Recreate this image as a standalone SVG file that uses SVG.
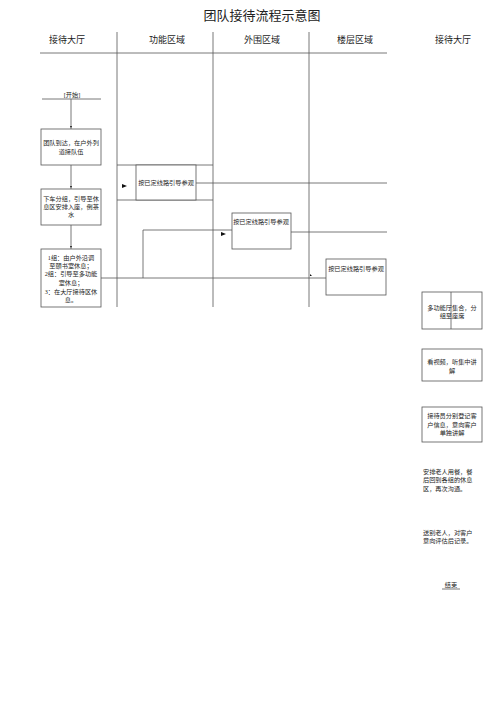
<svg xmlns="http://www.w3.org/2000/svg" width="500" height="707" viewBox="0 0 500 707">
<style>
.t{font-family:"Liberation Serif","Noto Sans CJK SC",serif;fill:#222}
.h{font-size:9px;text-anchor:middle}
.s{font-size:6.2px;text-anchor:middle}
.sl{font-size:6.2px}
.b{fill:#fff;stroke:#555;stroke-width:0.8}
.l{fill:none;stroke:#555;stroke-width:0.8}
.a{fill:#111}
</style>
<rect width="500" height="707" fill="#fff"/>
<text class="t" x="262" y="20" font-size="13" text-anchor="middle">团队接待流程示意图</text>
<g id="header">
<text class="t h" x="67" y="43">接待大厅</text>
<text class="t h" x="167" y="43">功能区域</text>
<text class="t h" x="262" y="43">外围区域</text>
<text class="t h" x="355" y="43">楼层区域</text>
<text class="t h" x="453" y="43">接待大厅</text>
<line class="l" x1="40" y1="53" x2="387" y2="53"/>
<line class="l" x1="117" y1="32" x2="117" y2="307"/>
<line class="l" x1="213" y1="32" x2="213" y2="307"/>
<line class="l" x1="309" y1="32" x2="309" y2="307"/>
</g>
<g id="connectors">
<line class="l" x1="42" y1="99" x2="101" y2="99"/>
<line class="l" x1="71" y1="99" x2="71" y2="129"/>
<line class="l" x1="71" y1="165" x2="71" y2="189"/>
<line class="l" x1="71" y1="225" x2="71" y2="249"/>
<line class="l" x1="117" y1="165" x2="213" y2="165"/>
<line class="l" x1="117" y1="200" x2="213" y2="200"/>
<line class="l" x1="196" y1="183" x2="387" y2="183"/>
<line class="l" x1="291" y1="232" x2="387" y2="232"/>
<polyline class="l" points="143,278 143,230 232,230"/>
<line class="l" x1="101" y1="278" x2="326" y2="278"/>
<path class="a" d="M122,184 L127,186 L122,188 Z"/>
<path class="a" d="M221,232 L226,234 L221,236 Z"/>
<path class="a" d="M70,126 L72,126 L71,128 Z"/>
<path class="a" d="M70,186 L72,186 L71,188 Z"/>
<path class="a" d="M70,246 L72,246 L71,248 Z"/>
<path class="a" d="M310,274 L312,276 L310,276 Z"/>
</g>
<g id="start">
<text class="t s" x="72" y="97">[开始]</text>
</g>
<g id="n1">
<rect class="b" x="41" y="129" width="60" height="36"/>
<text class="t s" x="71" y="145">团队到达，在户外列</text>
<text class="t s" x="71" y="154">道接队伍</text>
</g>
<g id="n2">
<rect class="b" x="41" y="189" width="60" height="36"/>
<text class="t s" x="71" y="201">下车分组，引导至休</text>
<text class="t s" x="71" y="209">息区安排入座，倒茶</text>
<text class="t s" x="71" y="217">水</text>
</g>
<g id="n3">
<rect class="b" x="41" y="249" width="60" height="58"/>
<text class="t s" x="71" y="260">1组：由户外沿调</text>
<text class="t s" x="71" y="268">至頤书室休息；</text>
<text class="t s" x="71" y="276">2组：引导至多功能</text>
<text class="t s" x="71" y="285">室休息；</text>
<text class="t s" x="71" y="294">3：在大厅接待区休</text>
<text class="t s" x="71" y="302">息。</text>
</g>
<g id="n4">
<rect class="b" x="136" y="165" width="60" height="35"/>
<text class="t s" x="166" y="185">按已定线路引导参观</text>
</g>
<g id="n5">
<rect class="b" x="232" y="213" width="59" height="36"/>
<text class="t s" x="261" y="224">按已定线路引导参观</text>
</g>
<g id="n6">
<rect class="b" x="326" y="259" width="60" height="36"/>
<text class="t s" x="356" y="271">按已定线路引导参观</text>
</g>
<g id="n7">
<rect class="b" x="422" y="292" width="60" height="37"/>
<line class="l" x1="451" y1="292" x2="451" y2="329"/>
<text class="t s" x="452" y="310">多功能厅集合，分</text>
<text class="t s" x="452" y="318">组至座席</text>
</g>
<g id="n8">
<rect class="b" x="422" y="349" width="60" height="32"/>
<text class="t s" x="452" y="364">看视频，听集中讲</text>
<text class="t s" x="452" y="373">解</text>
</g>
<g id="n9">
<rect class="b" x="422" y="407" width="60" height="35"/>
<text class="t s" x="452" y="418">接待员分别登记客</text>
<text class="t s" x="452" y="427">户信息，意向客户</text>
<text class="t s" x="452" y="435">单独讲解</text>
</g>
<g id="n10">
<text class="t sl" x="423" y="474">安排老人用餐，餐</text>
<text class="t sl" x="423" y="482">后回到各组的休息</text>
<text class="t sl" x="423" y="491">区，再次沟通。</text>
</g>
<g id="n11">
<text class="t sl" x="423" y="535">送别老人，对客户</text>
<text class="t sl" x="423" y="543">意向评估后记录。</text>
</g>
<g id="end">
<text class="t s" x="451" y="587">结束</text>
<line class="l" x1="442" y1="589" x2="460" y2="589"/>
</g>
</svg>
